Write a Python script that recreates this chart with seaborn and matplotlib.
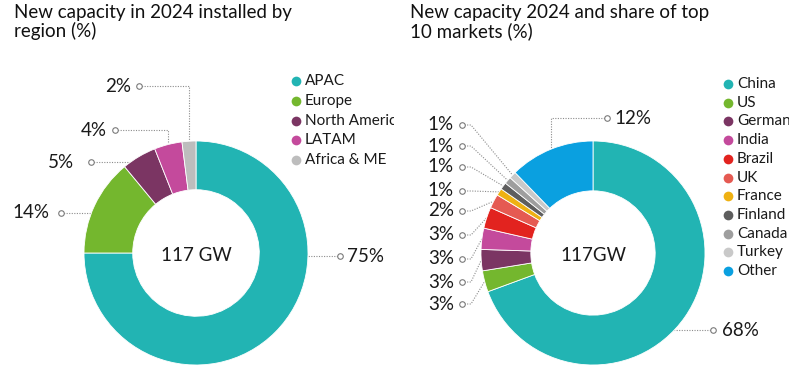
import numpy as np
import matplotlib
matplotlib.use('Agg')
import matplotlib.pyplot as plt
import seaborn as sns

# --- data ---
region_labels = ['APAC', 'Europe', 'North America', 'LATAM', 'Africa & ME']
region_share = [75, 14, 5, 4, 2]
region_colors = ['#22b4b3', '#74b72e', '#7b3563', '#c44a9c', '#bdbdbd']

market_labels = ['China', 'US', 'Germany', 'India', 'Brazil', 'UK', 'France',
                 'Finland', 'Canada', 'Turkey', 'Other']
market_share = [68, 3, 3, 3, 3, 2, 1, 1, 1, 1, 12]
market_colors = ['#22b4b3', '#74b72e', '#7b3563', '#c44a9c', '#e2231f', '#e55a52',
                 '#efb112', '#5e5e5e', '#9e9e9e', '#c9c9c9', '#0aa0e0']

sns.set_theme(style='white')
plt.rcParams['font.family'] = ['Lato', 'DejaVu Sans']

W, H = 804, 389
R = 112
TXT = '#1a1a1a'
LEAD = '#8c8c8c'

fig = plt.figure(figsize=(W / 100, H / 100), dpi=100)


def donut(x0, x1, cx, cy, values, colors, hole, center_txt, layout,
          leg_labels, leg_x, leg_y0, leg_step):
    ax = fig.add_axes([x0 / W, 0, (x1 - x0) / W, 1])
    wedges, _ = ax.pie(values, colors=colors, startangle=90, counterclock=False,
                       radius=1, wedgeprops=dict(width=1 - hole, edgecolor='white', linewidth=0.6))
    ax.set_aspect('auto')
    ax.set_xlim((x0 - cx) / R, (x1 - cx) / R)
    ax.set_ylim((cy - H) / R, cy / R)
    ax.axis('off')

    def d(x, y):
        return (x - cx) / R, (cy - y) / R

    # percentage labels with dotted leaders
    for w, v, (mode, ty, circ_x, txt_x) in zip(wedges, values, layout):
        th = np.deg2rad((w.theta1 + w.theta2) / 2)
        px_, py_ = d(circ_x, ty)
        sign = 1 if px_ > 0 else -1
        if mode == 'h':
            ex = sign * np.sqrt(max(1 - py_ ** 2, 0))
            xs, ys = [px_, ex], [py_, py_]
        elif mode == 'v':
            mx, my = np.cos(th), np.sin(th)
            xs, ys = [px_, mx, mx], [py_, py_, my]
        else:
            mx, my = np.cos(th), np.sin(th)
            kx = px_ + 9 / R
            xs, ys = [px_, kx, mx], [py_, py_, my]
        ax.plot(xs, ys, ls=(0, (1, 1.3)), lw=0.8, color=LEAD, zorder=0.5)
        ax.plot([px_], [py_], 'o', ms=4, mfc='white', mec='#7a7a7a', mew=0.8, zorder=3)
        tx, _ = d(txt_x, ty)
        ha = 'right' if txt_x < circ_x else 'left'
        ax.text(tx, py_, f'{v}%', ha=ha, va='center', fontsize=13.5, color=TXT)

    ax.text(0, -0.02, center_txt, ha='center', va='center', fontsize=13.5, color=TXT)

    # legend (text clipped at the panel edge like the original)
    for i, (lab, col) in enumerate(zip(leg_labels, colors)):
        lx, ly = d(leg_x, leg_y0 + i * leg_step)
        ax.plot([lx], [ly], 'o', ms=7, color=col, mec='none', clip_on=False)
        ax.text(lx + 9 / R, ly, lab, ha='left', va='center', fontsize=11,
                color=TXT, clip_on=True)
    return ax


# (mode, label y, circle x, text x) in pixels
region_layout = [('h', 256, 340, 347), ('h', 213, 61, 49), ('h', 162, 91, 74),
                 ('v', 130, 115, 107), ('v', 86, 139, 131)]
donut(0, 394, 196, 253, region_share, region_colors, 0.565, '117 GW', region_layout,
      region_labels, 296, 81, 19.8)

market_y = [304, 282, 259, 235, 211, 191, 167, 146, 125]
market_layout = ([('h', 330, 713, 722)] + [('d', y, 462, 454) for y in market_y]
                 + [('v', 118, 607, 614)])
donut(400, 789, 593, 253, market_share, market_colors, 0.555, '117GW', market_layout,
      market_labels, 728, 84, 18.7)

# titles: baseline of the last line sits at y=37 px
fig.text(14 / W, 1 - 37 / H, 'New capacity in 2024 installed by\nregion (%)',
         ha='left', va='baseline', fontsize=13.5, color='#111111', linespacing=1.05)
fig.text(410 / W, 1 - 37 / H, 'New capacity 2024 and share of top\n10 markets (%)',
         ha='left', va='baseline', fontsize=13.5, color='#111111', linespacing=1.05)

fig.savefig('out.png', dpi=100)
